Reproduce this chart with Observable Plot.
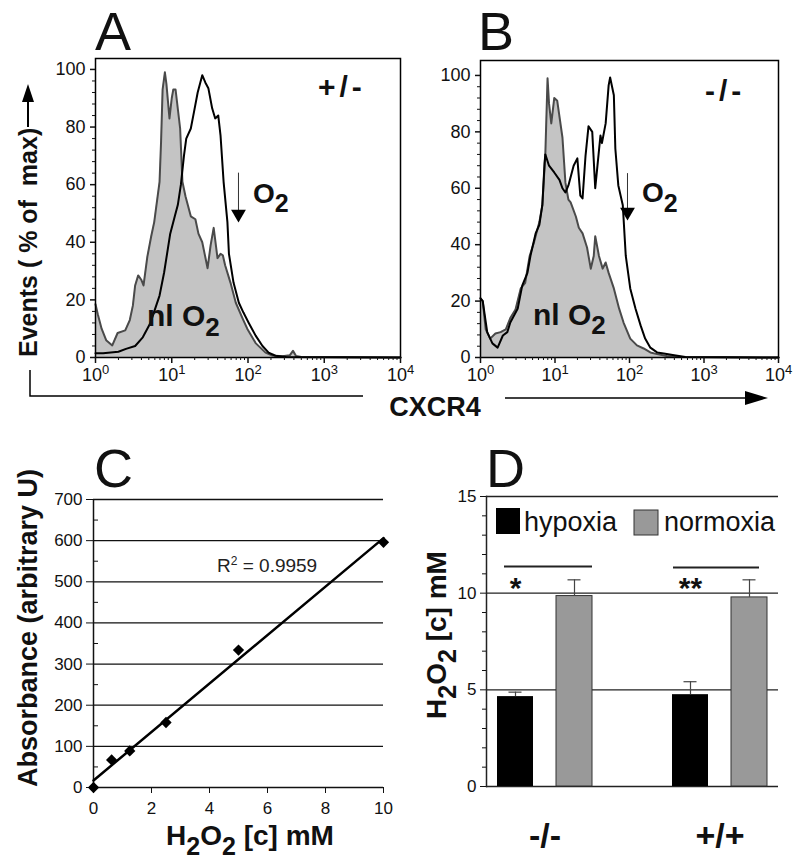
<!DOCTYPE html>
<html><head><meta charset="utf-8">
<script src="https://cdn.jsdelivr.net/npm/d3@7"></script>
<script src="https://cdn.jsdelivr.net/npm/@observablehq/plot@0.6"></script>
<style>
html,body{margin:0;padding:0;background:#fff;}
#fig{position:relative;width:800px;height:866px;overflow:hidden;background:#fff;font-family:Arial,"Liberation Sans",Helvetica,sans-serif;}
#fig svg{position:absolute;}
</style></head><body><div id="fig"></div>
<script>
const FONT = 'Arial, "Liberation Sans", Helvetica, sans-serif';

// ---- Panels A & B: flow histograms, [log10 CXCR4 intensity, events % of max]
const aNormoxia = [[0,18.5],[0.03,15],[0.08,10],[0.14,6],[0.22,4.2],[0.29,8.5],[0.39,9.4],[0.45,13],[0.49,18],[0.52,25],[0.56,28.5],[0.6,27],[0.63,25],[0.68,35],[0.73,42],[0.77,47],[0.84,61],[0.86,75],[0.88,93],[0.91,99],[0.93,95],[0.97,83],[1.0,90],[1.02,93],[1.05,93],[1.11,79.5],[1.14,61],[1.18,56],[1.25,49],[1.31,48],[1.35,43],[1.40,40],[1.47,31],[1.51,39],[1.55,45],[1.60,34.5],[1.64,36],[1.67,35.5],[1.70,32],[1.77,26],[1.84,19],[1.93,13.5],[1.99,10],[2.10,5],[2.23,1.7],[2.32,0.7],[2.45,0.4],[2.55,0.8],[2.59,2.3],[2.63,0.5],[2.7,0.2],[4,0]];
const aHypoxia = [[0,1.5],[0.1,1.5],[0.3,2],[0.4,3],[0.52,4],[0.62,7],[0.72,12],[0.84,21.5],[0.90,29.5],[0.98,43],[1.04,49],[1.08,53],[1.12,60],[1.16,70],[1.19,76],[1.25,79.5],[1.29,85],[1.34,92],[1.40,98],[1.44,95.5],[1.48,93.5],[1.53,86.5],[1.57,83],[1.61,84],[1.64,77],[1.68,61],[1.73,47],[1.75,36],[1.81,26],[1.88,19],[1.94,15.6],[2.01,12],[2.10,7.6],[2.19,4],[2.27,1.7],[2.36,0.6],[2.5,0.2],[4,0]];
const bNormoxia = [[0,21],[0.03,20],[0.07,10],[0.13,6.7],[0.2,8.5],[0.27,9],[0.34,10],[0.40,14],[0.47,17],[0.54,24.5],[0.60,26.5],[0.66,36],[0.72,41],[0.79,48],[0.83,54],[0.87,72],[0.9,99],[0.92,90],[0.95,83],[0.99,92],[1.03,91],[1.1,78],[1.14,62],[1.18,56],[1.21,55],[1.28,50],[1.32,46],[1.37,44],[1.43,39],[1.48,31.5],[1.52,36],[1.54,43],[1.59,36],[1.64,31.5],[1.68,33.7],[1.72,30],[1.79,24.5],[1.86,17.4],[1.92,12.4],[2.01,6.7],[2.1,4.3],[2.19,3.2],[2.28,1.8],[2.37,1.2],[2.5,0.5],[2.7,0.2],[4,0]];
const bHypoxia = [[0,21],[0.03,20],[0.09,9],[0.16,5],[0.23,3.5],[0.30,7.8],[0.36,9],[0.40,12.4],[0.50,17.4],[0.56,25.5],[0.63,30],[0.67,36],[0.74,44],[0.79,47],[0.83,54],[0.86,69],[0.87,72],[0.92,68],[0.99,65.6],[1.06,63],[1.10,60],[1.14,58.5],[1.18,61],[1.25,68],[1.30,70.6],[1.34,57.4],[1.37,56.4],[1.41,71.6],[1.45,82],[1.50,80],[1.54,60],[1.57,68],[1.61,78.7],[1.63,76],[1.68,83],[1.72,96.5],[1.74,99.3],[1.79,93],[1.81,74],[1.85,61],[1.91,54],[1.95,36],[2.01,24.5],[2.08,17.4],[2.15,11.3],[2.21,6.7],[2.28,3.5],[2.37,1.8],[2.46,1.4],[2.6,0.8],[2.75,0.2],[4,0]];
const aArrow = [{x: 75, yTop: 64, yHead: 49.8}];
const bArrow = [{x: 94, yTop: 65.2, yHead: 51.6}];
const histTicksY = [0, 20, 40, 60, 80, 100];
const logMajor = [1, 10, 100, 1000, 10000];
const logMajorExp = ["0", "1", "2", "3", "4"];

// ---- Panel C: H2O2 standard curve
const stdConc = [0, 0.625, 1.25, 2.5, 5, 10];
const stdAbs = [0, 67, 89, 158, 334, 596];
const cTicksY = [0, 100, 200, 300, 400, 500, 600, 700];
const cTicksX = [0, 2, 4, 6, 8, 10];

// ---- Panel D: H2O2 concentration by genotype
const genotypes = ["-/-", "+/+"];
const hypoxiaMean = [4.65, 4.75];
const hypoxiaTop = [4.88, 5.42];
const normoxiaMean = [9.85, 9.78];
const normoxiaTop = [10.69, 10.69];
const sigY = [11.38, 11.33];
const sigLabel = ["*", "**"];
const dTicksY = [0, 5, 10, 15];

const ns = "http://www.w3.org/2000/svg";
const fig = document.getElementById("fig");
const baseStyle = {fontFamily: FONT, color: "#111", background: "transparent", overflow: "visible"};
function place(svg, left, top) {
  svg.style.left = left + "px";
  svg.style.top = top + "px";
  svg.style.maxWidth = "none";
  fig.appendChild(svg);
}

const histMinorY = d3.range(4, 104, 4).filter(v => v % 20 !== 0);
const logMinor = logMajor.slice(0, 4).flatMap(d => [2,3,4,5,6,7,8,9].map(k => d * k));

function histogram(gray, black, arrow, yMax, width, marginLeft, marginRight, marginTop) {
  const toPt = ([e, v]) => ({x: 10 ** e, y: v});
  const g = gray.map(toPt), b = black.map(toPt);
  const svg = Plot.plot({
    width, height: 400, marginLeft, marginRight, marginTop, marginBottom: 43,
    x: {type: "log", domain: [1, 1e4], label: null},
    y: {domain: [0, yMax], label: null},
    style: {...baseStyle, fontSize: "18px"},
    marks: [
      Plot.areaY(g, {x: "x", y: "y", fill: "#c4c4c4"}),
      Plot.lineY(g, {x: "x", y: "y", stroke: "#4a4a4a", strokeWidth: 2}),
      Plot.lineY(b, {x: "x", y: "y", stroke: "#000", strokeWidth: 2}),
      Plot.ruleX(arrow, {x: "x", y1: "yTop", y2: "yHead", stroke: "#333", strokeWidth: 1}),
      Plot.dot(arrow, {x: "x", y: "yHead", symbol: "triangle", rotate: 180, r: 5.5, fill: "#000", stroke: "none"}),
      Plot.frame({stroke: "#000", strokeWidth: 1.5}),
      Plot.axisY(histTicksY, {tickSize: 5, tickPadding: 5, label: null, strokeWidth: 1.5}),
      Plot.axisY(histMinorY, {tickSize: 3, tickFormat: () => "", label: null}),
      Plot.axisX(logMajor, {tickSize: 6, tickPadding: 5, label: null, strokeWidth: 1.5,
        tickFormat: d => "10^" + logMajorExp[logMajor.indexOf(d)]}),
      Plot.axisX(logMinor, {tickSize: 3, tickFormat: () => "", label: null})
    ]
  });
  // render "10^k" tick labels with a real superscript
  svg.querySelectorAll("text").forEach(t => {
    const m = /^10\^(\d)$/.exec(t.textContent);
    if (m) {
      t.textContent = "10";
      const s = document.createElementNS(ns, "tspan");
      s.setAttribute("dy", "-7");
      s.setAttribute("font-size", "13");
      s.textContent = m[1];
      t.appendChild(s);
    }
  });
  return svg;
}

place(histogram(aNormoxia, aHypoxia, aArrow, 103.8, 404, 95, 4, 58), 0, 0);
place(histogram(bNormoxia, bHypoxia, bArrow, 105.3, 400, 80, 22, 60), 400, 0);

// Panel C
const std = stdConc.map((c, i) => ({c, a: stdAbs[i]}));
place(Plot.plot({
  width: 400, height: 446, marginLeft: 93, marginRight: 17, marginTop: 79, marginBottom: 79,
  x: {domain: [0, 10], label: null},
  y: {domain: [0, 700], label: null},
  style: {...baseStyle, fontSize: "17px"},
  marks: [
    Plot.ruleY(cTicksY, {stroke: "#111", strokeWidth: 1.3}),
    Plot.ruleX([0], {stroke: "#111", strokeWidth: 1.5}),
    Plot.axisY(cTicksY, {tickSize: 7, tickPadding: 4, label: null}),
    Plot.axisY(cTicksY.slice(0, -1).map(v => v + 50), {tickSize: 4, dx: 5, tickFormat: () => "", label: null}),
    Plot.axisX(cTicksX, {tickSize: 6, tickPadding: 8, label: null}),
    Plot.linearRegressionY(std, {x: "c", y: "a", ci: 0, stroke: "#000", strokeWidth: 2.5}),
    Plot.dot(std, {x: "c", y: "a", symbol: "square", rotate: 45, r: 4.5, fill: "#000", stroke: "none"})
  ]
}), 0, 420);

// Panel D
const hyp = genotypes.map((g, i) => ({g, v: hypoxiaMean[i], hi: hypoxiaTop[i]}));
const norm = genotypes.map((g, i) => ({g, v: normoxiaMean[i], hi: normoxiaTop[i]}));
const sig = genotypes.map((g, i) => ({g, y: sigY[i], label: sigLabel[i]}));
place(Plot.plot({
  width: 400, height: 446, marginLeft: 86, marginRight: 22, marginTop: 76, marginBottom: 80,
  x: {domain: genotypes, paddingInner: 0.4545, paddingOuter: 0.057, label: null},
  y: {domain: [0, 15], label: null},
  style: {...baseStyle, fontSize: "17px"},
  marks: [
    Plot.ruleY(dTicksY, {stroke: "#222", strokeWidth: 1.3}),
    Plot.frame({anchor: "left", stroke: "#222", strokeWidth: 1.5}),
    Plot.axisY(dTicksY, {tickSize: 6, tickPadding: 4, label: null}),
    Plot.axisY(d3.range(1, 15).filter(v => v % 5 !== 0), {tickSize: 4, tickFormat: () => "", label: null}),
    Plot.barY(hyp, {x: "g", y: "v", fill: "#000", insetRight: 59}),
    Plot.barY(norm, {x: "g", y: "v", fill: "#999", stroke: "#333", strokeWidth: 1, insetLeft: 59}),
    Plot.ruleX(hyp, {x: "g", y1: "v", y2: "hi", dx: -29.5, stroke: "#444", strokeWidth: 1.2}),
    Plot.tickY(hyp, {x: "g", y: "hi", insetLeft: 11.5, insetRight: 70.5, stroke: "#444", strokeWidth: 1.2}),
    Plot.ruleX(norm, {x: "g", y1: "v", y2: "hi", dx: 29.5, stroke: "#444", strokeWidth: 1.2}),
    Plot.tickY(norm, {x: "g", y: "hi", insetLeft: 70.5, insetRight: 11.5, stroke: "#444", strokeWidth: 1.2}),
    Plot.tickY(sig.slice(0, 1), {x: "g", y: "y", insetLeft: 7, insetRight: 0, stroke: "#222", strokeWidth: 2}),
    Plot.tickY(sig.slice(1), {x: "g", y: "y", insetLeft: 1, insetRight: 8, stroke: "#222", strokeWidth: 2}),
    Plot.text(sig, {x: "g", y: () => 10.25, text: "label", dx: -29.5, fontSize: 30, fontWeight: "bold", fill: "#111"}),
    Plot.axisX({tickSize: 0, tickPadding: 36, fontSize: 34, fontWeight: "bold", label: null})
  ]
}), 400, 420);

// Overlay: panel letters, titles, annotations, legend
const overlay = document.createElementNS(ns, "svg");
overlay.setAttribute("width", 800);
overlay.setAttribute("height", 866);
overlay.setAttribute("font-family", FONT);
overlay.style.left = "0px"; overlay.style.top = "0px"; overlay.style.pointerEvents = "none";
overlay.innerHTML = `
<g font-size="54" fill="#111">
  <text x="95" y="50">A</text>
  <text x="478" y="50">B</text>
  <text x="94" y="487">C</text>
  <text x="486" y="487">D</text>
</g>
<g font-weight="bold" fill="#111">
  <text transform="translate(37,357) rotate(-90)" font-size="25" xml:space="preserve">Events ( % of  max)</text>
  <text x="435" y="416" text-anchor="middle" font-size="27">CXCR4</text>
  <text x="318" y="97" font-size="30" letter-spacing="4">+/-</text>
  <text x="705" y="101" font-size="30" letter-spacing="4">-/-</text>
  <text x="253" y="203" font-size="28">O<tspan dy="9" font-size="25">2</tspan></text>
  <text x="642" y="202" font-size="28">O<tspan dy="10" font-size="25">2</tspan></text>
  <text x="147" y="326" font-size="30">nl O<tspan dy="10" font-size="26">2</tspan></text>
  <text x="533" y="325" font-size="30">nl O<tspan dy="9" font-size="26">2</tspan></text>
  <text transform="translate(37,628) rotate(-90)" text-anchor="middle" font-size="27">Absorbance (arbitrary U)</text>
  <text x="250" y="845" text-anchor="middle" font-size="28">H<tspan dy="10" font-size="25">2</tspan><tspan dy="-10">O</tspan><tspan dy="10" font-size="25">2</tspan><tspan dy="-10"> [c] mM</tspan></text>
  <text transform="translate(446,635) rotate(-90)" text-anchor="middle" font-size="28">H<tspan dy="10" font-size="25">2</tspan><tspan dy="-10">O</tspan><tspan dy="10" font-size="25">2</tspan><tspan dy="-10"> [c] mM</tspan></text>
</g>
<line x1="28" y1="127" x2="28" y2="100" stroke="#000" stroke-width="2"/>
<polygon points="22,102 34,102 28,84" fill="#000"/>
<path d="M30,370 V396 H363" fill="none" stroke="#000" stroke-width="1.5"/>
<line x1="505" y1="398" x2="750" y2="398" stroke="#000" stroke-width="1.5"/>
<polygon points="745,391 768,398 745,405" fill="#000"/>
<text x="217" y="572" font-size="19" fill="#222">R<tspan dy="-7" font-size="12">2</tspan><tspan dy="7"> = 0.9959</tspan></text>
<rect x="496" y="508" width="24" height="26" fill="#000"/>
<text x="524" y="531" font-size="27" fill="#111">hypoxia</text>
<rect x="634" y="510" width="24" height="25" fill="#999" stroke="#333" stroke-width="1"/>
<text x="664" y="531" font-size="27" fill="#111">normoxia</text>
`;
fig.appendChild(overlay);
</script></body></html>
